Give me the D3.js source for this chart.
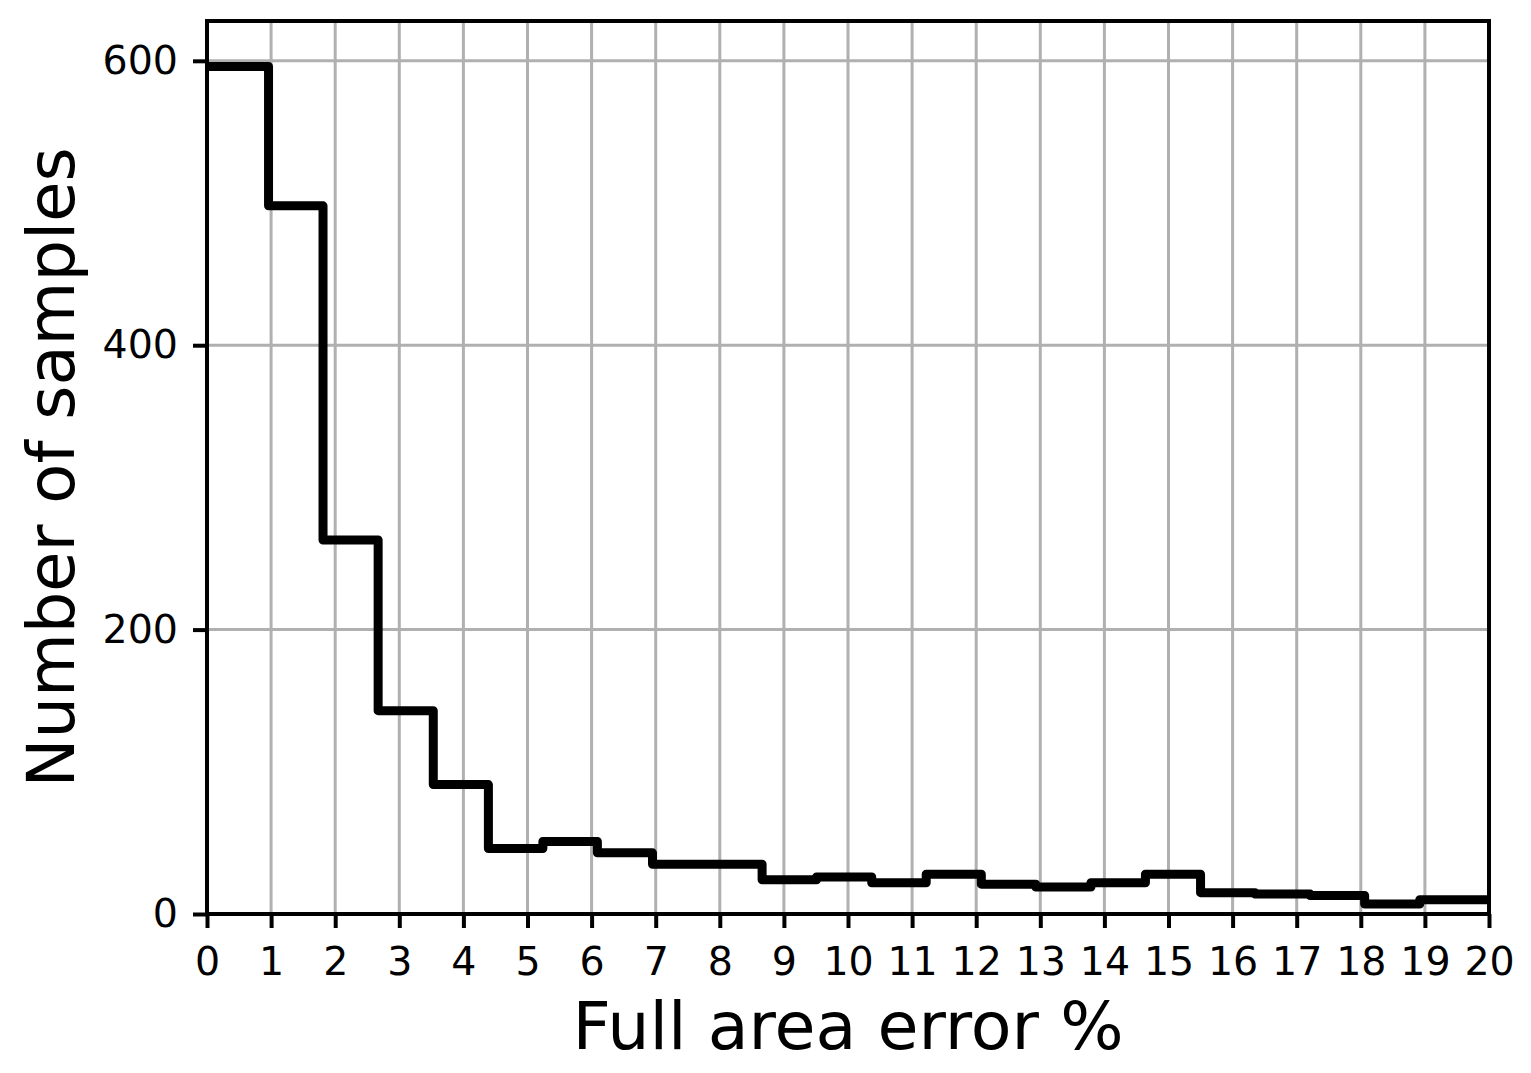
<!DOCTYPE html>
<html>
<head>
<meta charset="utf-8">
<script src="https://cdn.jsdelivr.net/npm/d3@7"></script>
<style>
  body { margin: 0; background: #fff; }
  text { font-family: "DejaVu Sans", sans-serif; fill: #000; }
</style>
</head>
<body>
<div id="chart"></div>
<script>
// histogram bin edges (error %) and sample counts per bin
var binEdges = [0, 0.96, 1.81, 2.67, 3.53, 4.39, 5.24, 6.09, 6.95, 7.80, 8.66, 9.51,
    10.37, 11.22, 12.08, 12.93, 13.79, 14.64, 15.50, 16.35, 17.21, 18.06, 18.92, 19.77, 20.63];
var binCounts = [596, 498, 263, 143, 91, 46, 51, 43, 35, 35, 24, 26,
    22, 28, 21, 19, 22, 28, 15, 14, 13, 7, 10, 10];
var xTicks = d3.range(0, 21);
var yTicks = [0, 200, 400, 600];
var xDomain = [0, 20];
var yDomain = [0, 628];

var width = 1531, height = 1073;
var margin = {top: 21, right: 42, bottom: 159, left: 207};
var w = width - margin.left - margin.right;
var h = height - margin.top - margin.bottom;

var svg = d3.select("#chart").append("svg")
    .attr("width", width)
    .attr("height", height);
svg.append("rect").attr("width", width).attr("height", height).attr("fill", "#fff");

var g = svg.append("g")
    .attr("transform", "translate(" + margin.left + "," + margin.top + ")");

var x = d3.scaleLinear().domain(xDomain).range([0, w]);
var y = d3.scaleLinear().domain(yDomain).range([h, 0]);

// grid
g.append("g").selectAll("line.vgrid")
    .data(xTicks).enter().append("line")
    .attr("x1", function(d) { return x(d); })
    .attr("x2", function(d) { return x(d); })
    .attr("y1", 0).attr("y2", h)
    .attr("stroke", "#b0b0b0").attr("stroke-width", 3);
g.append("g").selectAll("line.hgrid")
    .data(yTicks).enter().append("line")
    .attr("y1", function(d) { return y(d); })
    .attr("y2", function(d) { return y(d); })
    .attr("x1", 0).attr("x2", w)
    .attr("stroke", "#b0b0b0").attr("stroke-width", 3);

// step outline
g.append("clipPath").attr("id", "plotClip")
    .append("rect").attr("width", w).attr("height", h);

var pts = binCounts.map(function(c, i) { return [binEdges[i], c]; });
pts.push([binEdges[binEdges.length - 1], binCounts[binCounts.length - 1]]);

var stepLine = d3.line()
    .x(function(d) { return x(d[0]); })
    .y(function(d) { return y(d[1]); })
    .curve(d3.curveStepAfter);

g.append("path")
    .attr("clip-path", "url(#plotClip)")
    .attr("d", stepLine(pts))
    .attr("fill", "none")
    .attr("stroke", "#000")
    .attr("stroke-width", 9)
    .attr("stroke-linejoin", "round");

// axes
var xAxis = g.append("g")
    .attr("transform", "translate(0," + h + ")")
    .call(d3.axisBottom(x).tickValues(xTicks).tickSize(14).tickPadding(19).tickFormat(d3.format("d")));
var yAxis = g.append("g")
    .call(d3.axisLeft(y).tickValues(yTicks).tickSize(14).tickPadding(15).tickFormat(d3.format("d")));

[xAxis, yAxis].forEach(function(a) {
    a.select(".domain").remove();
    a.selectAll(".tick line").attr("stroke", "#000").attr("stroke-width", 4);
    a.selectAll(".tick text").style("font-size", "39.5px");
});

// spines
g.append("rect")
    .attr("width", w).attr("height", h)
    .attr("fill", "none")
    .attr("stroke", "#000")
    .attr("stroke-width", 4);

// axis labels
svg.append("text")
    .attr("x", margin.left + w / 2)
    .attr("y", 1049)
    .attr("text-anchor", "middle")
    .style("font-size", "66.7px")
    .text("Full area error %");

svg.append("text")
    .attr("transform", "translate(74," + (margin.top + h / 2) + ") rotate(-90)")
    .attr("text-anchor", "middle")
    .style("font-size", "65.5px")
    .text("Number of samples");
</script>
</body>
</html>
